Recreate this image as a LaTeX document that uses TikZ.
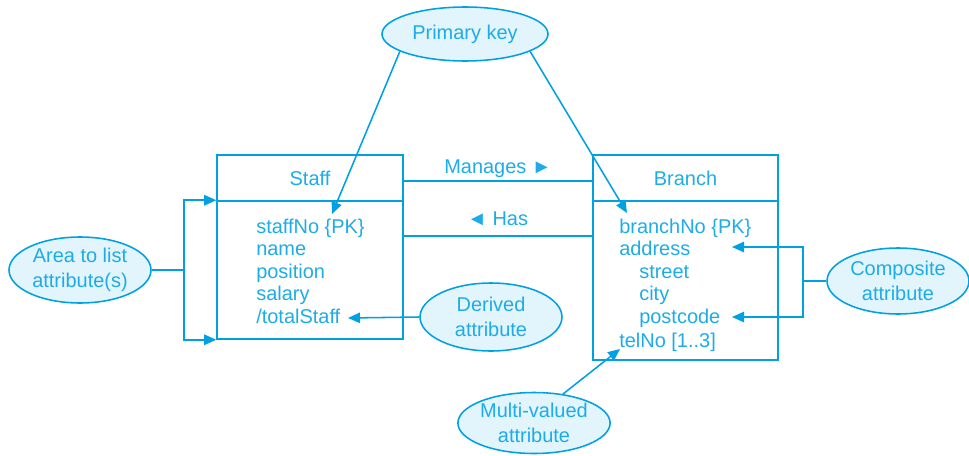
\documentclass[tikz,border=0pt]{standalone}
\usepackage{fontspec}
\setmainfont{Liberation Sans}
\usetikzlibrary{arrows.meta,shapes.geometric}
\definecolor{erline}{RGB}{0,160,227}
\definecolor{ertext}{RGB}{30,172,232}
\definecolor{erfill}{RGB}{226,244,252}
\tikzset{
  classbox/.style={draw=erline, line width=1.1pt, text=ertext},
  attr/.style={anchor=base west, inner sep=0pt, text=ertext},
  remark/.style={draw=erline, fill=erfill, ellipse, line width=1.1pt, inner sep=0pt,
    minimum width=3.55cm, minimum height=1.65cm, align=center, text=ertext},
  link/.style={draw=erline, line width=1.1pt}
}
\begin{document}
\begin{tikzpicture}[>={Triangle[length=0.3cm,width=0.26cm]}, font=\fontsize{14.2}{17.5}\selectfont]
\useasboundingbox (0,0) rectangle (24.225,-11.375);

% class boxes
\node[classbox, minimum width=4.65cm, minimum height=1.15cm] (staffHead) at (7.75,-4.45) {Staff};
\node[classbox, minimum width=4.65cm, minimum height=3.45cm] (staffBody) at (7.75,-6.75) {};
\node[classbox, minimum width=4.625cm, minimum height=1.15cm] (branchHead) at (17.1375,-4.45) {Branch};
\node[classbox, minimum width=4.625cm, minimum height=3.975cm] (branchBody) at (17.1375,-7.0125) {};

% attributes
\node[attr] (staffNo) at (6.4,-5.825) {staffNo \{PK\}};
\node[attr] (name) at (6.4,-6.3875) {name};
\node[attr] (position) at (6.4,-6.95) {position};
\node[attr] (salary) at (6.4,-7.5125) {salary};
\node[attr] (totalStaff) at (6.4,-8.075) {/totalStaff};
\node[attr] (branchNo) at (15.475,-5.825) {branchNo \{PK\}};
\node[attr] (address) at (15.475,-6.375) {address};
\node[attr] (street) at (15.975,-6.95) {street};
\node[attr] (city) at (15.975,-7.5) {city};
\node[attr] (postcode) at (15.975,-8.075) {postcode};
\node[attr] (telNo) at (15.475,-8.675) {telNo [1..3]};

% notes
\node[remark, minimum width=4.15cm, minimum height=1.35cm] (pk) at (11.625,-0.85) {Primary key};
\node[remark] (area) at (2.0,-6.75) {Area to list\\attribute(s)};
\node[remark, minimum height=1.7cm] (derived) at (12.275,-7.925) {Derived\\attribute};
\node[remark] (composite) at (22.45,-7.025) {Composite\\attribute};
\node[remark, minimum width=3.45cm, minimum height=1.525cm] (multi) at (13.35,-10.575) {Multi-valued\\attribute};

\coordinate (pkStaffTip) at (8.3,-5.35);
\coordinate (pkBranchTip) at (15.675,-5.325);
\coordinate (hasStart) at (10.075,-5.9);
\coordinate (derivedTip) at (8.7,-7.95);
\coordinate (addressTip) at (18.3,-6.175);
\coordinate (postcodeTip) at (18.3,-7.925);
\coordinate (telTip) at (15.5,-8.725);

% associations
\draw[link] ([yshift=-0.075cm]staffHead.east) -- node[above, inner sep=2pt, text=ertext] {Manages ►} ([yshift=-0.075cm]branchHead.west);
\draw[link] (hasStart) -- node[above, inner sep=2pt, yshift=0.175cm, text=ertext] {◄ Has} (hasStart -| branchBody.west);

% pointers
\draw[link, ->] (pk.195) -- (pkStaffTip);
\draw[link, ->] (pk.345) -- (pkBranchTip);
\draw[link, ->] (area.east) -- ++(0.8,0) |- (staffBody.north west);
\draw[link, ->] (area.east) -- ++(0.8,0) |- (staffBody.south west);
\draw[link, ->] (derived.west) -- (derivedTip);
\draw[link, ->] (composite.west) -- ++(-0.575,0) |- (addressTip);
\draw[link, ->] (composite.west) -- ++(-0.575,0) |- (postcodeTip);
\draw[link, ->] (multi.45) -- (telTip);
\end{tikzpicture}
\end{document}
